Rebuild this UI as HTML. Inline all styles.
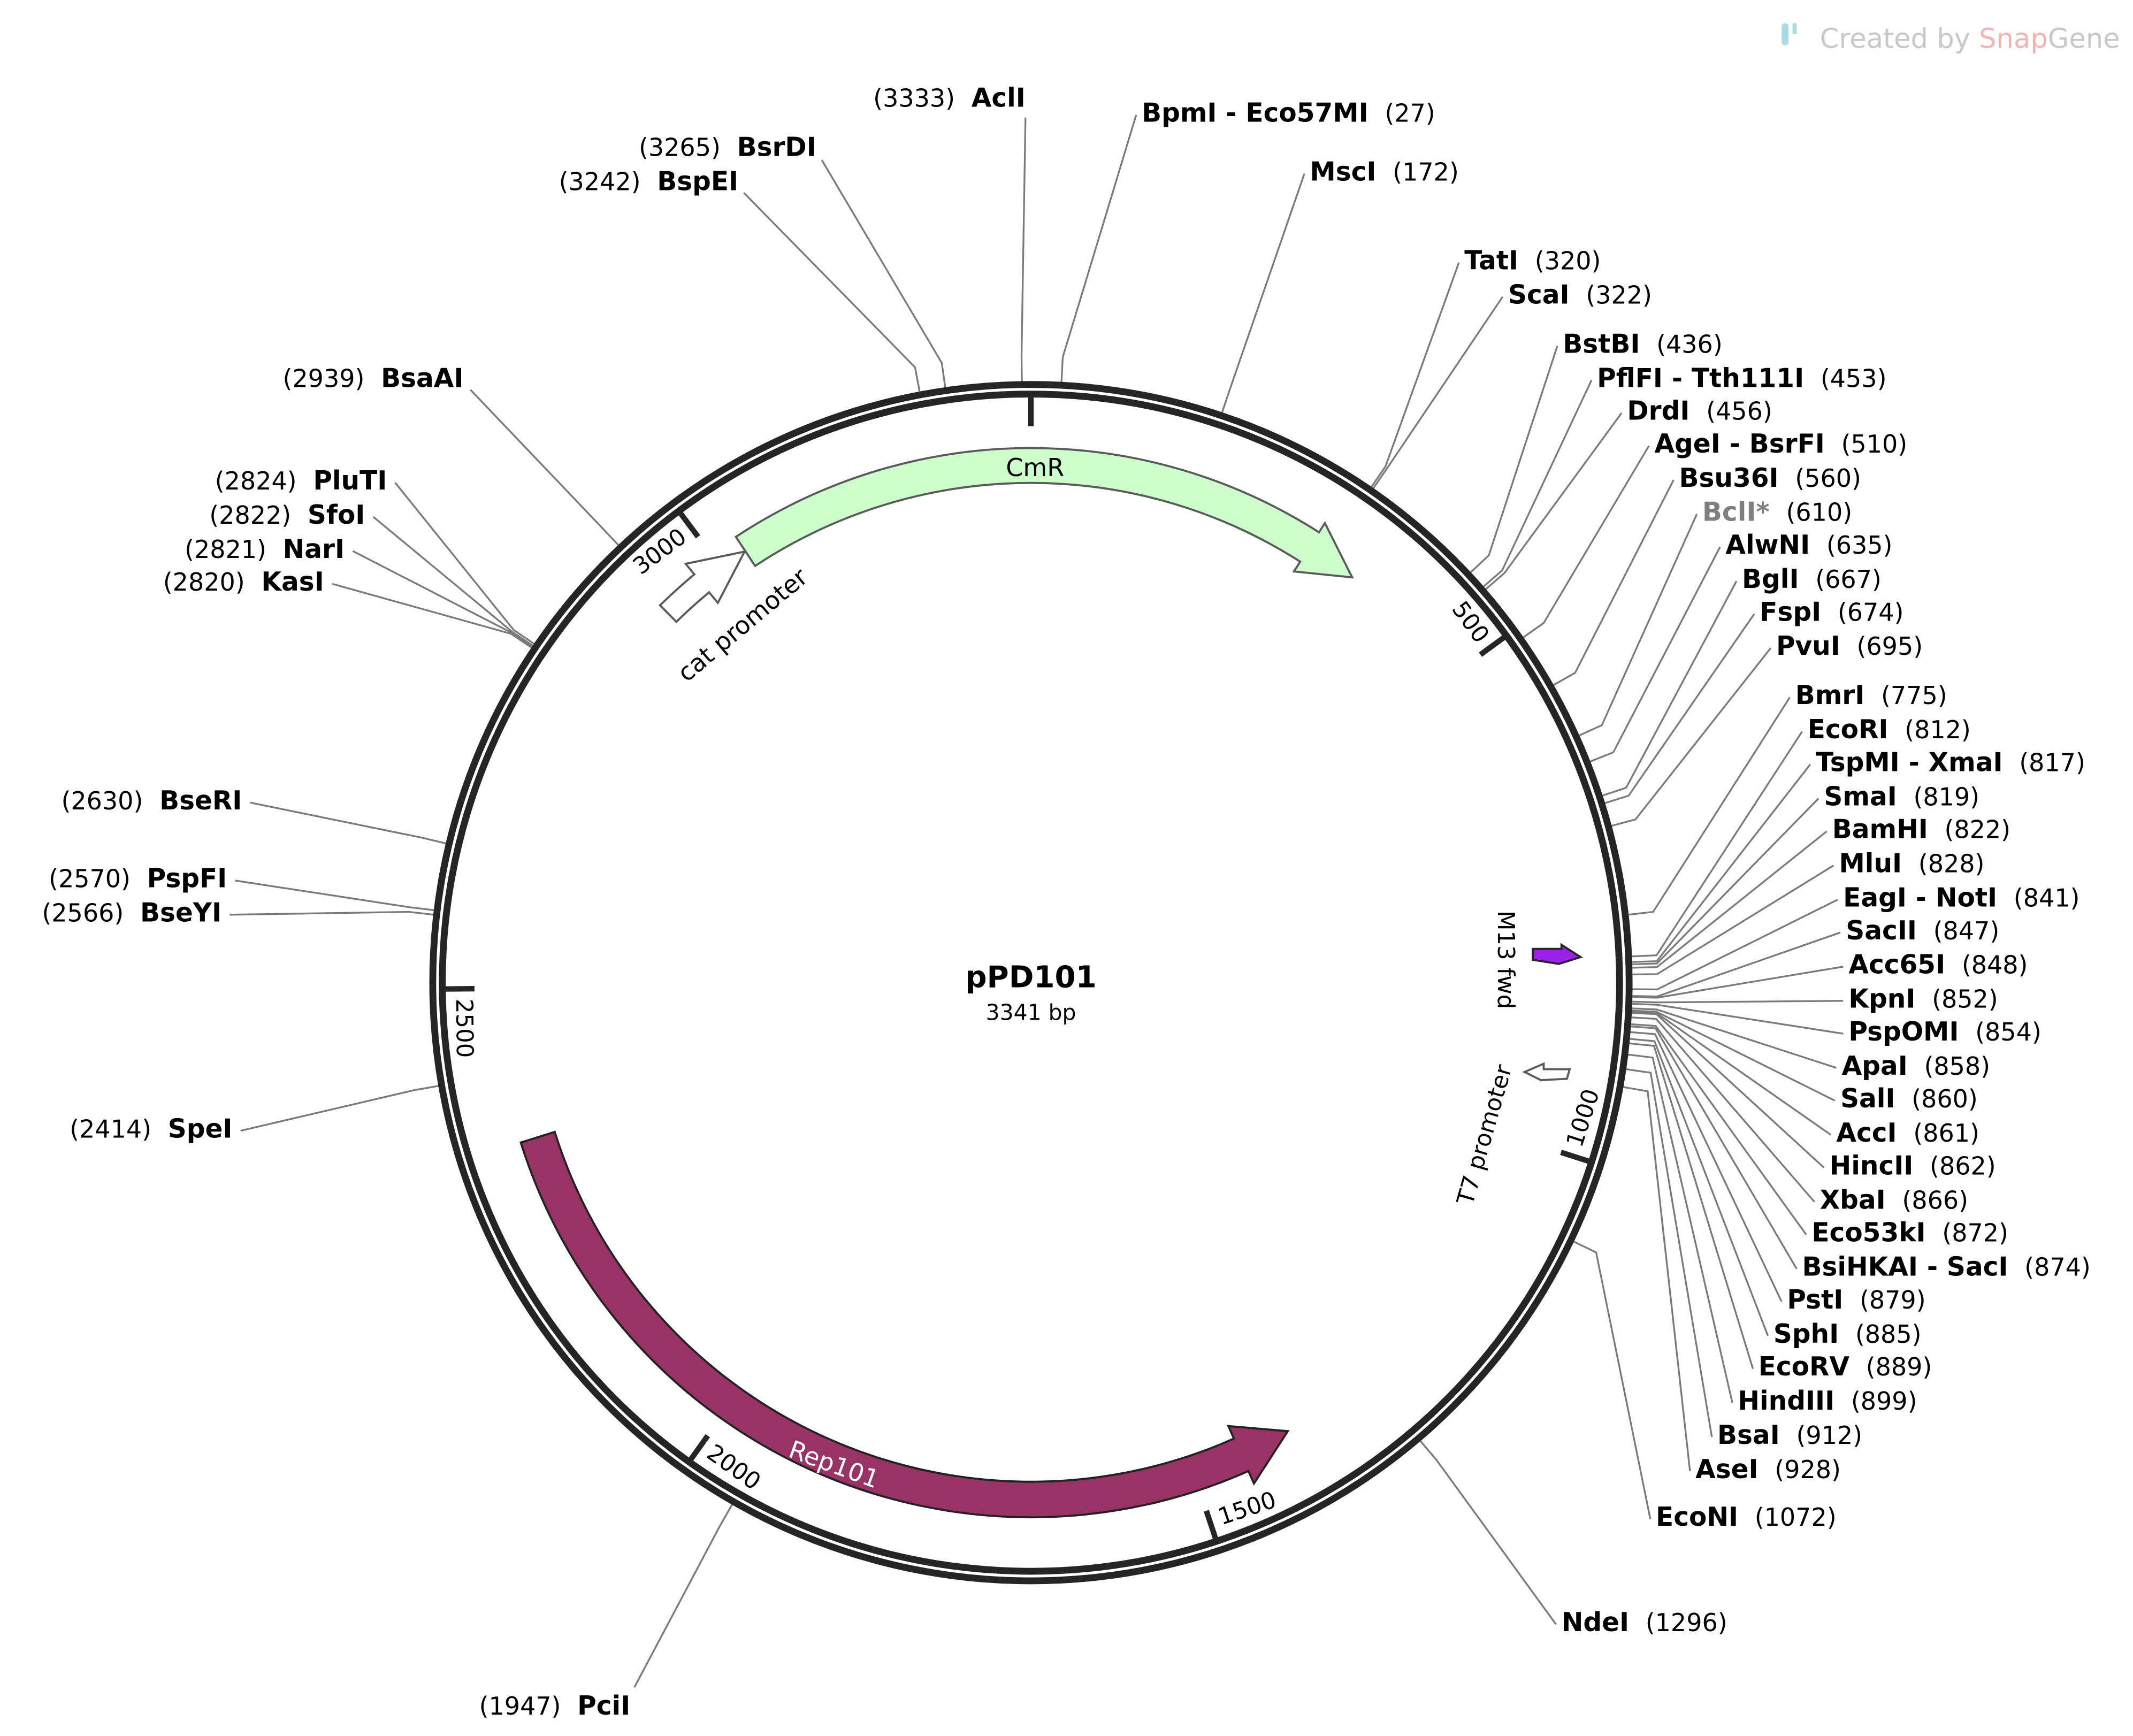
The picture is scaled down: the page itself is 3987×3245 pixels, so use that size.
<!DOCTYPE html>
<html><head><meta charset="utf-8"><style>
html,body{margin:0;padding:0;background:#fff;}
svg{display:block;font-family:"DejaVu Sans","Liberation Sans",sans-serif;}
</style></head><body>
<svg id="map" width="3987" height="3245" viewBox="0 0 1560 1269.67" xmlns="http://www.w3.org/2000/svg">
<g id="lines"></g>
<g id="ring"></g>
<g id="feats"></g>
<g id="labels"></g>
<text x="754" y="722" text-anchor="middle" font-size="22" font-weight="bold">pPD101</text>
<text x="754" y="746" text-anchor="middle" font-size="16">3341 bp</text>
<g>
<rect x="1303" y="17" width="5" height="16" rx="2" fill="#a8dde6"/>
<rect x="1311" y="17" width="3" height="8" fill="#a8dde6"/>
<text x="1331" y="35" font-size="20" fill="#c8c8c8">Created by <tspan fill="#f4b4b4">Snap</tspan>Gene</text>
</g>
</svg>
<script>
const TOTAL = 3341;
const rightNames = ["BpmI - Eco57MI","MscI","TatI","ScaI","BstBI","PflFI - Tth111I","DrdI","AgeI - BsrFI","Bsu36I","BclI*","AlwNI","BglI","FspI","PvuI","BmrI","EcoRI","TspMI - XmaI","SmaI","BamHI","MluI","EagI - NotI","SacII","Acc65I","KpnI","PspOMI","ApaI","SalI","AccI","HincII","XbaI","Eco53kI","BsiHKAI - SacI","PstI","SphI","EcoRV","HindIII","BsaI","AseI","EcoNI","NdeI"];
const rightBp = [27,172,320,322,436,453,456,510,560,610,635,667,674,695,775,812,817,819,822,828,841,847,848,852,854,858,860,861,862,866,872,874,879,885,889,899,912,928,1072,1296];
const rightLabelX = [835,958,1071,1103,1143,1168,1190,1210,1228,1245,1262,1274,1287,1299,1313,1322,1328,1334,1340,1345,1348,1350,1352,1352,1352,1347,1346,1343,1338,1331,1325,1318,1307,1297,1286,1271,1256,1240,1211,1142];
const rightLabelY = [83,126,191,216,252,277,301,325,350,375,399,424,448,473,509,534,558,583,607,632,657,681,706,731,755,780,804,829,853,878,902,927,951,976,1000,1025,1050,1075,1110,1187];
const leftNames = ["PciI","SpeI","BseYI","PspFI","BseRI","KasI","NarI","SfoI","PluTI","BsaAI","BspEI","BsrDI","AclI"];
const leftBp = [1947,2414,2566,2570,2630,2820,2821,2822,2824,2939,3242,3265,3333];
const leftLabelX = [461,170,162,166,177,237,252,267,283,339,540,597,750];
const leftLabelY = [1248,826,668,643,586,426,402,377,352,277,133,108,72];
const tickBp = [0,500,1000,1500,2000,2500,3000];

const CX=754, CY=718.7, R_OUT=437.5, R_IN=430.5;
const NS="http://www.w3.org/2000/svg";
function ang(bp){return bp/TOTAL*2*Math.PI;}
function pt(bp,r){const a=ang(bp);return [CX+r*Math.sin(a), CY-r*Math.cos(a)];}
function ptA(deg,r){const a=deg*Math.PI/180;return [CX+r*Math.sin(a), CY-r*Math.cos(a)];}
function mk(tag,attrs,parent){const e=document.createElementNS(NS,tag);for(const k in attrs)e.setAttribute(k,attrs[k]);parent.appendChild(e);return e;}

const ring=document.getElementById('ring');
let c1=mk('circle',{cx:CX,cy:CY,r:R_OUT,fill:'none',stroke:'#252525','stroke-width':5},ring);


let c2=mk('circle',{cx:CX,cy:CY,r:R_IN,fill:'none',stroke:'#252525','stroke-width':5},ring);


tickBp.forEach(b=>{
  const p1=pt(b,429), p2=pt(b,407);
  let t=mk('line',{x1:p1[0],y1:p1[1],x2:p2[0],y2:p2[1],stroke:'#252525','stroke-width':4},ring);
  
  
  if(b===0) return;
  const deg=b/TOTAL*360;
  const flip = deg>90 && deg<270;
  const p=ptA(deg-1.0,415);
  const rot = flip ? deg-180 : (deg>270? deg-360: deg);
  let tx=mk('text',{x:p[0],y:p[1],'font-size':17,'text-anchor':flip?'start':'end','dominant-baseline':'central',transform:`rotate(${rot} ${p[0]} ${p[1]})`},ring);
  tx.textContent=String(b);
  
  
});

const lines=document.getElementById('lines');
const labels=document.getElementById('labels');
function leader(bp,ex,ey,name){
  const a=pt(bp,440), k=pt(bp,458);
  let pl=mk('polyline',{points:`${a[0]},${a[1]} ${k[0]},${k[1]} ${ex},${ey}`,fill:'none',stroke:'#7a7a7a','stroke-width':1.3},lines);
  
  
}
rightNames.forEach((n,i)=>{
  const x=rightLabelX[i], y=rightLabelY[i];
  leader(rightBp[i],x-4,y+1,n);
  let t=mk('text',{x:x,y:y+6,'font-size':19},labels);
  
  
  const s1=mk('tspan',{'font-weight':'bold',fill:n==='BclI*'?'#808080':'#000'},t); s1.textContent=n;
  const s2=mk('tspan',{dx:12,'font-size':18},t); s2.textContent='('+rightBp[i]+')';
});
leftNames.forEach((n,i)=>{
  const x=leftLabelX[i], y=leftLabelY[i];
  let ex=x+6, ey=y+1;
  if(n==='PciI'){ex=x+3;ey=y-14;}
  if(n==='AclI'){ex=x;ey=y+14;}
  if(n==='BsrDI'){ex=x+4;ey=y+9;}
  if(n==='BspEI'){ex=x+4;ey=y+8;}
  if(n==='BsaAI'){ex=x+5;ey=y+8;}
  leader(leftBp[i],ex,ey,n);
  let t=mk('text',{x:x,y:y+6,'font-size':19,'text-anchor':'end'},labels);
  
  
  const s1=mk('tspan',{'font-size':18},t); s1.textContent='('+leftBp[i]+')';
  const s2=mk('tspan',{dx:12,'font-weight':'bold'},t); s2.textContent=n;
});

function arrowPath(a0,aBase,aTip,ri,ro,hi,ho){
  const rm=(ri+ro)/2;
  const cw=aTip>a0;
  const sw=cw?1:0, swb=cw?0:1;
  const large=Math.abs(aBase-a0)>180?1:0;
  const p1=ptA(a0,ro),p2=ptA(aBase,ro),p3=ptA(aBase,ho),p4=ptA(aTip,rm),p5=ptA(aBase,hi),p6=ptA(aBase,ri),p7=ptA(a0,ri);
  return `M${p1} A${ro},${ro} 0 ${large} ${sw} ${p2} L${p3} L${p4} L${p5} L${p6} A${ri},${ri} 0 ${large} ${swb} ${p7} Z`;
}
const feats=document.getElementById('feats');
function feat(name,d,fill,stroke,sw){
  let p=mk('path',{d:d,fill:fill,stroke:stroke,'stroke-width':sw,'stroke-linejoin':'miter'},feats);
  
  
}
feat('cmr-feature',arrowPath(-33.5,32.6,38.4,365.5,391,357,399),'#ccffcc','#5a5a5a',1.5);
feat('rep101-feature',arrowPath(252.6,156,150.2,365,391,355,401),'#993366','#222',1.5);
feat('cat-promoter-feature',arrowPath(-44.5,-39.5,-33.6,370,387,360,397),'#fff','#5a5a5a',1.5);
feat('m13-fwd-feature','M1121,694 L1142,694 L1142,691 L1156,700 L1140,705 L1121,702 Z','#9a22e8','#252525',1.5);
feat('t7-promoter-feature','M1148,782 L1129,782 L1129,778 L1115,784 L1127,790 L1146,789 Z','#fff','#5a5a5a',1.5);
function ftext(txt,x,y,rot,fill,size,name){
  let t=mk('text',{x:x,y:y,'font-size':size,fill:fill,'text-anchor':'middle','dominant-baseline':'central',transform:`rotate(${rot} ${x} ${y})`},feats);
  t.textContent=txt;
  
  
}
ftext('CmR',757,342,0,'#000',18,'cmr-label');
ftext('cat promoter',543,457,-40,'#000',18,'cat-promoter-label');
ftext('Rep101',610,1071,20,'#fff',18,'rep101-label');
ftext('M13 fwd',1101,702,90,'#000',17,'m13-fwd-label');
ftext('T7 promoter',1086,830,-74,'#000',17,'t7-promoter-label');
</script>
</body></html>
